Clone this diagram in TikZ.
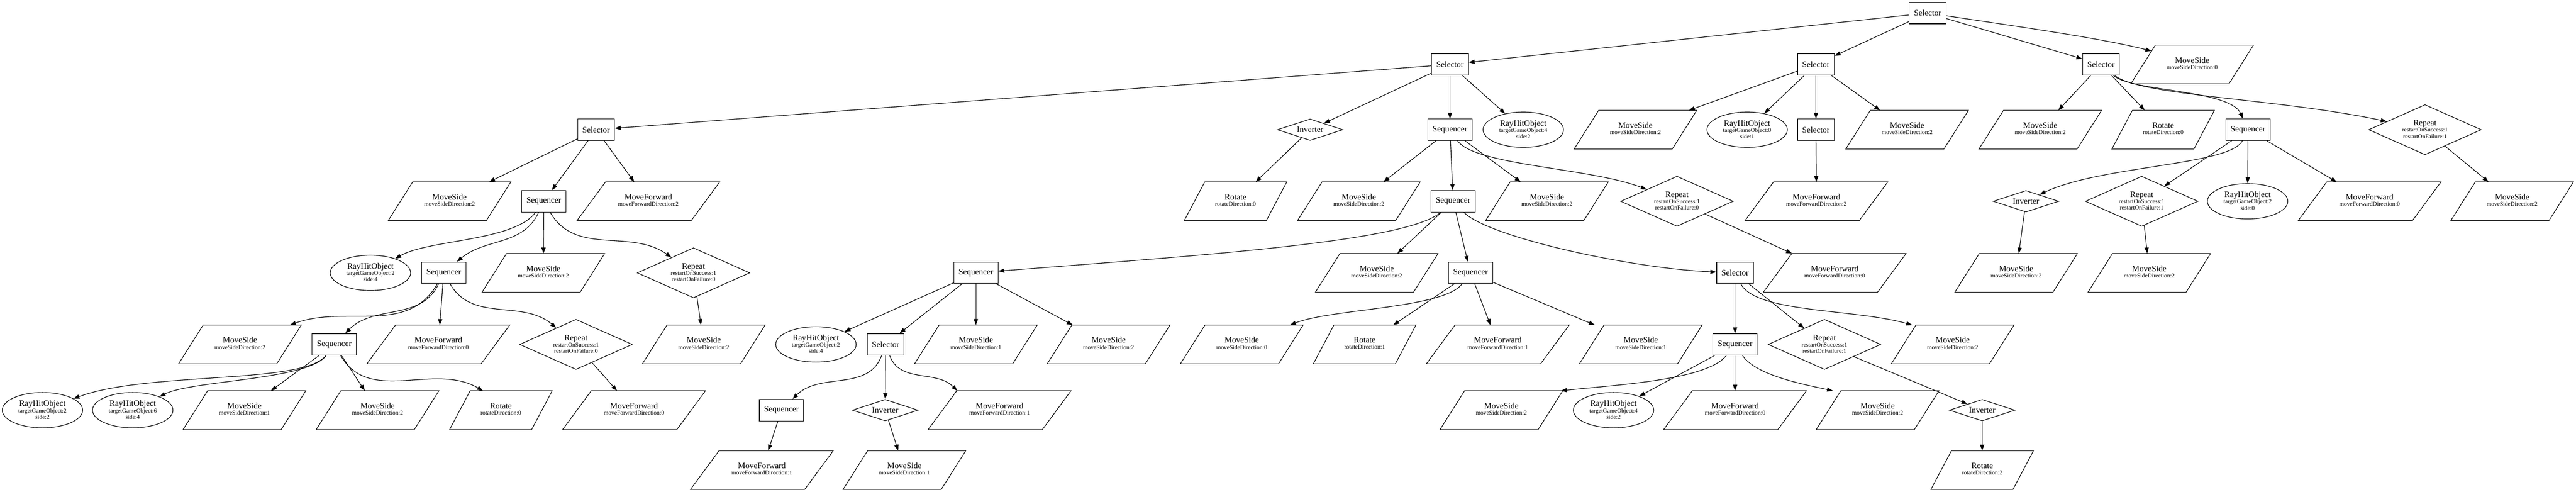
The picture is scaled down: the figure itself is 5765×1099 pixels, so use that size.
\documentclass[tikz,border=0pt]{standalone}
\usepackage{fontspec}
\setmainfont{Liberation Serif}
\usetikzlibrary{shapes.geometric,arrows.meta,calc}
\newcommand\mainf{\fontsize{14}{10.5}\selectfont}
\newcommand\subf{\fontsize{10}{10.5}\selectfont}
\tikzset{
 box/.style={draw, rectangle, line width=1pt, minimum height=36pt, inner xsep=8pt, inner ysep=0pt, font=\mainf},
 ell/.style={draw, ellipse, line width=1pt, minimum width=135pt, minimum height=59.25pt, inner sep=0pt, align=center, font=\subf, text depth=1.6pt},
 rep/.style={draw, diamond, line width=1pt, minimum width=189pt, minimum height=84pt, inner sep=0pt, aspect=2.25, align=center, font=\subf, text depth=1.6pt},
 inv/.style={draw, diamond, line width=1pt, minimum width=110pt, minimum height=36pt, inner sep=0pt, aspect=3, font=\mainf},
 pbox/.style={rectangle, minimum height=64.5pt, inner sep=0pt, align=center, font=\subf, text depth=4.2pt},
 shp/.style={draw, line width=1pt},
 edg/.style={draw, line width=1pt, -{Triangle[length=10pt,width=7pt]}},
}
\newcommand\Pnode[5]{%
 \node[pbox, minimum width=#4] (#1) at (#2,#3) {#5};
 \path[shp] ($(#1.north west)!0.2!(#1.north east)$) -- (#1.north east) -- ($(#1.south west)!0.8!(#1.south east)$) -- (#1.south west) -- cycle;}
\newcommand\MSnode[4]{\Pnode{#1}{#2}{#3}{205.5pt}{\mainf MoveSide\\\subf moveSideDirection:#4}}
\newcommand\MFnode[4]{\Pnode{#1}{#2}{#3}{239.25pt}{\mainf MoveForward\\\subf moveForwardDirection:#4}}
\newcommand\ROnode[4]{\Pnode{#1}{#2}{#3}{171.75pt}{\mainf Rotate\\\subf rotateDirection:#4}}
\newcommand\RHnode[5]{\node[ell] (#1) at (#2,#3) {\mainf RayHitObject\\\subf targetGameObject:#4\\side:#5};}
\newcommand\RPnode[5]{\node[rep] (#1) at (#2,#3) {\mainf Repeat\\\subf restartOnSuccess:#4\\restartOnFailure:#5};}
\begin{document}
\begin{tikzpicture}[x=0.75pt, y=-0.75pt]
\useasboundingbox (0,0) rectangle (5765,1099);
% row 0
\node[box] (root) at (4314,29) {Selector};
% row 1
\node[box] (s1a) at (3245,144) {Selector};
\node[box] (s1b) at (4064,144) {Selector};
\node[box] (s1c) at (4702,144) {Selector};
\MSnode{m1d}{4906}{144}{0}
% row 2
\node[box] (s2a) at (1334,290) {Selector};
\node[inv] (i2a) at (2932,290) {Inverter};
\node[box] (q2a) at (3245,290) {Sequencer};
\RHnode{h2a}{3409}{290}{4}{2}
\MSnode{m2b1}{3660}{290}{2}
\RHnode{h2b}{3910}{290}{0}{1}
\node[box] (s2b) at (4064,290) {Selector};
\MSnode{m2b2}{4268}{290}{2}
\MSnode{m2c}{4566}{290}{2}
\ROnode{r2c}{4841}{290}{0}
\node[box] (q2c) at (5031,290) {Sequencer};
\RPnode{p2c}{5427}{290}{1}{1}
% row 3
\MSnode{m3a}{1006}{450}{2}
\node[box] (q3a) at (1217,450) {Sequencer};
\MFnode{f3a}{1451}{450}{2}
\ROnode{r3a}{2765}{450}{0}
\MSnode{m3b}{3041}{450}{2}
\node[box] (q3b) at (3252,450) {Sequencer};
\MSnode{m3c}{3462}{450}{2}
\RPnode{p3b}{3753}{450}{1}{0}
\MFnode{f3b}{4065}{450}{2}
\node[inv] (i3c) at (4534,450) {Inverter};
\RPnode{p3c}{4793}{450}{1}{1}
\RHnode{h3c}{5030}{450}{2}{0}
\MFnode{f3c}{5303}{450}{0}
\MSnode{m3d}{5622}{450}{2}
% row 4
\RHnode{h4a}{829}{610}{2}{4}
\node[box] (q4a) at (993,610) {Sequencer};
\MSnode{m4a}{1216}{610}{2}
\RPnode{p4a}{1552}{610}{1}{0}
\node[box] (q4b) at (2184,610) {Sequencer};
\MSnode{m4b}{3081}{610}{2}
\node[box] (q4c) at (3291,610) {Sequencer};
\node[box] (s4c) at (3883,610) {Selector};
\MFnode{f4b}{4106}{610}{0}
\MSnode{m4c}{4512}{610}{2}
\MSnode{m4d}{4810}{610}{2}
% row 5
\MSnode{m5a}{537}{770}{2}
\node[box] (q5a) at (748,770) {Sequencer};
\MFnode{f5a}{981}{770}{0}
\RPnode{p5a}{1289}{770}{1}{0}
\MSnode{m5b}{1575}{770}{2}
\RHnode{h5b}{1826}{770}{2}{4}
\node[box] (s5b) at (1982,770) {Selector};
\MSnode{m5c}{2184}{770}{1}
\MSnode{m5d}{2481}{770}{2}
\MSnode{m5e}{2779}{770}{0}
\ROnode{r5e}{3054}{770}{1}
\MFnode{f5e}{3352}{770}{1}
\MSnode{m5f}{3672}{770}{1}
\node[box] (q5g) at (3883,770) {Sequencer};
\RPnode{p5g}{4083}{770}{1}{1}
\MSnode{m5g}{4370}{770}{2}
% row 6
\RHnode{h6a}{95}{917}{2}{2}
\RHnode{h6b}{297}{917}{6}{4}
\MSnode{m6a}{547}{917}{1}
\MSnode{m6b}{845}{917}{2}
\ROnode{r6a}{1121}{917}{0}
\MFnode{f6a}{1419}{917}{0}
\node[box] (q6b) at (1749,917) {Sequencer};
\node[inv] (i6b) at (1981,917) {Inverter};
\MFnode{f6b}{2237}{917}{1}
\MSnode{m6c}{3360}{917}{2}
\RHnode{h6c}{3611}{917}{4}{2}
\MFnode{f6c}{3883}{917}{0}
\MSnode{m6d}{4202}{917}{2}
\node[inv] (i6e) at (4436,917) {Inverter};
% row 7
\MFnode{f7b}{1705}{1051}{1}
\MSnode{m7b}{2024}{1051}{1}
\ROnode{r7e}{4436}{1051}{2}
% edges
\draw[edg] (root) -- (s1a);
\draw[edg] (root) -- (s1b);
\draw[edg] (root) -- (s1c);
\draw[edg] (root) .. controls (4520,60) and (4700,85) .. ([xshift=34.5pt,yshift=22.5pt]m1d.west);
\draw[edg] (s1a) -- (s2a);
\draw[edg] (s1a) -- (i2a);
\draw[edg] (s1a) -- (q2a);
\draw[edg] (s1a) -- (h2a);
\draw[edg] (s1b) -- (m2b1);
\draw[edg] (s1b) -- (h2b);
\draw[edg] (s1b) -- (s2b);
\draw[edg] (s1b) -- (m2b2);
\draw[edg] (s1c) -- (m2c);
\draw[edg] (s1c) -- (r2c);
\draw[edg] (s1c) .. controls (4770,205) and (4990,200) .. (q2c);
\draw[edg] (s1c) .. controls (4790,215) and (5100,220) .. (p2c);
\draw[edg] (s2a) -- (m3a);
\draw[edg] (s2a) -- (q3a);
\draw[edg] (s2a) -- (f3a);
\draw[edg] (i2a) -- (r3a);
\draw[edg] (q2a) -- (m3b);
\draw[edg] (q2a) -- (q3b);
\draw[edg] (q2a) -- (m3c);
\draw[edg] (q2a) .. controls (3300,370) and (3560,375) .. (p3b);
\draw[edg] (s2b) -- (f3b);
\draw[edg] (q2c) .. controls (4990,370) and (4700,370) .. (i3c);
\draw[edg] (q2c) -- (p3c);
\draw[edg] (q2c) -- (h3c);
\draw[edg] (q2c) -- (f3c);
\draw[edg] (p2c) -- (m3d);
\draw[edg] (q3a) .. controls (1150,540) and (960,535) .. (h4a);
\draw[edg] (q3a) to[out=-115,in=40] (q4a);
\draw[edg] (q3a) -- (m4a);
\draw[edg] (q3a) to[out=-60,in=145] (p4a);
\draw[edg] (q3b) .. controls (3150,540) and (2700,570) .. (q4b);
\draw[edg] (q3b) -- (m4b);
\draw[edg] (q3b) -- (q4c);
\draw[edg] (q3b) .. controls (3330,530) and (3650,600) .. (s4c);
\draw[edg] (p3b) -- (f4b);
\draw[edg] (i3c) -- (m4c);
\draw[edg] (p3c) -- (m4d);
\draw[edg] (q4a) to[out=-120,in=20] ([xshift=84pt]m5a.north);
\draw[edg] (q4a) to[out=-115,in=45] (q5a);
\draw[edg] (q4a) -- (f5a);
\draw[edg] (q4a) to[out=-60,in=140] (p5a);
\draw[edg] (p4a) -- (m5b);
\draw[edg] (q4b) -- (h5b);
\draw[edg] (q4b) -- (s5b);
\draw[edg] (q4b) -- (m5c);
\draw[edg] (q4b) -- (m5d);
\draw[edg] (q4c) .. controls (3230,690) and (2980,690) .. ([xshift=81pt]m5e.north);
\draw[edg] (q4c) -- (r5e);
\draw[edg] (q4c) -- (f5e);
\draw[edg] (q4c) -- (m5f);
\draw[edg] (s4c) -- (q5g);
\draw[edg] (s4c) -- (p5g);
\draw[edg] (s4c) .. controls (3930,700) and (4150,690) .. ([xshift=-68pt]m5g.north);
\draw[edg] (q5a) .. controls (680,860) and (330,830) .. (h6a);
\draw[edg] (q5a) .. controls (690,850) and (430,850) .. (h6b);
\draw[edg] (q5a) -- (m6a);
\draw[edg] (q5a) -- (m6b);
\draw[edg] (q5a) to[out=-60,in=150] ([xshift=-30pt]r6a.north);
\draw[edg] (p5a) -- (f6a);
\draw[edg] (s5b) to[out=-110,in=45] (q6b);
\draw[edg] (s5b) -- (i6b);
\draw[edg] (s5b) to[out=-70,in=135] ([xshift=-71pt]f6b.north);
\draw[edg] (q5g) .. controls (3820,850) and (3620,860) .. ([xshift=100pt]m6c.north);
\draw[edg] (q5g) -- (h6c);
\draw[edg] (q5g) -- (f6c);
\draw[edg] (q5g) .. controls (3930,840) and (4040,860) .. ([xshift=-75pt]m6d.north);
\draw[edg] (p5g) -- (i6e);
\draw[edg] (q6b) -- (f7b);
\draw[edg] (i6b) -- (m7b);
\draw[edg] (i6e) -- (r7e);
\end{tikzpicture}
\end{document}
